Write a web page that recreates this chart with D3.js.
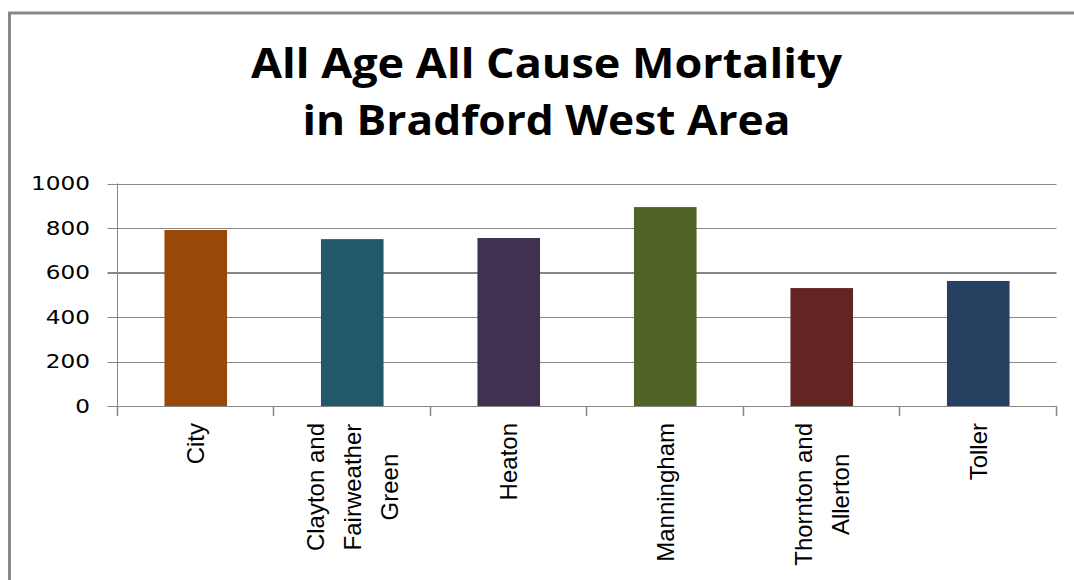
<!DOCTYPE html>
<html>
<head>
<meta charset="utf-8">
<script src="https://cdn.jsdelivr.net/npm/d3@7"></script>
<style>
  html, body { margin: 0; padding: 0; background: #fff; }
  svg { display: block; }
</style>
</head>
<body>
<svg id="chart" width="1074" height="580"></svg>
<script>
// ---- data ----
const categories = ["City", "Clayton and\nFairweather\nGreen", "Heaton", "Manningham", "Thornton and\nAllerton", "Toller"];
const values = [791, 750, 755, 894, 530, 562];
const barColors = ["#984807", "#215968", "#403151", "#4F6228", "#632523", "#254061"];
const yTicks = [0, 200, 400, 600, 800, 1000];
const titleLines = ["All Age All Cause Mortality", "in Bradford West Area"];

// ---- layout ----
const W = 1074, H = 580;
const plot = { left: 117.5, right: 1056.5, top: 183.5, bottom: 406 };
const grid = "#878787";

const svg = d3.select("#chart");

// frame
svg.append("path")
  .attr("d", `M9.5,${H} V13 H${W}`)
  .attr("fill", "none").attr("stroke", grid).attr("stroke-width", 3);
svg.append("line").attr("x1", 8).attr("x2", W).attr("y1", 13).attr("y2", 13)
  .attr("stroke", grid).attr("stroke-width", 2);

// title
const titleBase = [78, 135];
const titleLen = [591, 488];
svg.append("g").selectAll("text").data(titleLines).join("text")
  .attr("x", 546.5)
  .attr("y", (d, i) => titleBase[i])
  .attr("text-anchor", "middle")
  .attr("font-family", "'Open Sans', sans-serif")
  .attr("font-weight", 700)
  .attr("font-size", 42)
  .attr("fill", "#000")
  .attr("textLength", (d, i) => titleLen[i])
  .attr("lengthAdjust", "spacingAndGlyphs")
  .text(d => d);

// scales
const x = d3.scaleBand().domain(categories).range([plot.left, plot.right])
  .paddingInner(0.6).paddingOuter(0.3);
const y = d3.scaleLinear().domain([0, 1000]).range([plot.bottom, plot.top]);

// gridlines + y ticks (outward)
const gy = svg.append("g");
gy.selectAll("line").data(yTicks).join("line")
  .attr("x1", plot.left - 10).attr("x2", plot.right)
  .attr("y1", d => Math.round(y(d)) + (d === 600 ? 0 : 0.5))
  .attr("y2", d => Math.round(y(d)) + (d === 600 ? 0 : 0.5))
  .attr("stroke", grid)
  .attr("stroke-width", d => d === 600 ? 2 : 1);

// y tick labels
svg.append("g").selectAll("text").data(yTicks).join("text")
  .attr("transform", d => `translate(90,${y(d)}) scale(1.22,1)`)
  .attr("text-anchor", "end")
  .attr("dy", "0.36em")
  .attr("font-family", "'DejaVu Sans', sans-serif")
  .attr("font-size", 19)
  .attr("fill", "#000")
  .text(d => d3.format("d")(d));

// bars
svg.append("g").selectAll("rect").data(values).join("rect")
  .attr("x", (d, i) => x(categories[i]))
  .attr("width", x.bandwidth())
  .attr("y", d => y(d))
  .attr("height", d => y(0) - y(d))
  .attr("fill", (d, i) => barColors[i]);

// axes lines
svg.append("line").attr("x1", plot.left).attr("x2", plot.left)
  .attr("y1", plot.top).attr("y2", plot.bottom + 10)
  .attr("stroke", grid).attr("stroke-width", 1);
svg.append("line").attr("x1", plot.left).attr("x2", plot.right)
  .attr("y1", plot.bottom + 0.5).attr("y2", plot.bottom + 0.5)
  .attr("stroke", grid).attr("stroke-width", 1);
// category boundary ticks
const bounds = d3.range(categories.length + 1).map(i => plot.left + (plot.right - plot.left) * i / categories.length);
svg.append("g").selectAll("line").data(bounds).join("line")
  .attr("x1", d => Math.round(d) - 0.5).attr("x2", d => Math.round(d) - 0.5)
  .attr("y1", plot.bottom).attr("y2", plot.bottom + 10)
  .attr("stroke", grid).attr("stroke-width", 1.5);

// x labels (rotated, multi-line, centered)
const labelTop = 423;
const lineGap = 37;
const fontSize = 24;
const lg = svg.append("g")
  .attr("font-family", "'Liberation Sans', Arial, sans-serif")
  .attr("font-size", fontSize)
  .attr("fill", "#000");
categories.forEach(cat => {
  const lines = cat.split("\n");
  const cx = x(cat) + x.bandwidth() / 2;
  const tmp = lg.append("text").attr("visibility", "hidden");
  let maxLen = 0;
  lines.forEach(l => { tmp.text(l); maxLen = Math.max(maxLen, tmp.node().getComputedTextLength()); });
  tmp.remove();
  const yc = labelTop + maxLen / 2;
  const n = lines.length;
  lines.forEach((l, j) => {
    const off = (j - (n - 1) / 2) * lineGap;
    lg.append("text")
      .attr("transform", `translate(${cx + off + 8.5},${yc}) scale(1,1) rotate(-90)`)
      .attr("text-anchor", "middle")
      .text(l);
  });
});
</script>
</body>
</html>
